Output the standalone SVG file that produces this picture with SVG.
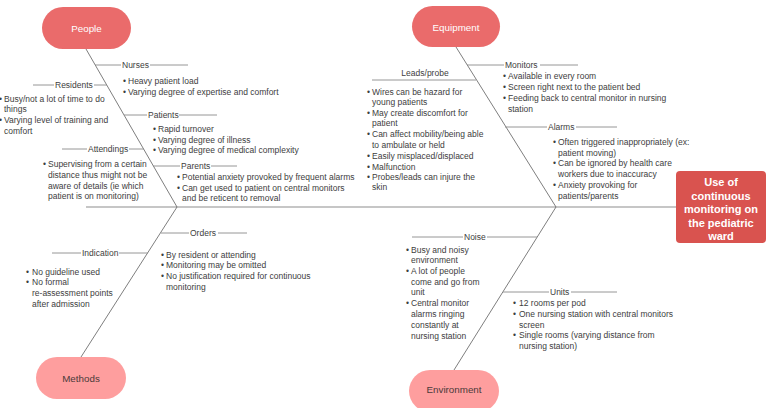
<svg xmlns="http://www.w3.org/2000/svg" width="768" height="408" viewBox="0 0 768 408">
<style>
.bg{fill:#ffffff}
.bone{stroke:#6f6f6f;stroke-width:0.9;fill:none}
.spine{stroke:#b3b3b3;stroke-width:1.6;fill:none}
.br{stroke:#8a8a8a;stroke-width:0.9;fill:none}
.t{font-family:"Liberation Sans",Arial,sans-serif;font-size:8.5px;fill:#3d3d3d}
.pillA{fill:#ea6b6b}
.pillB{fill:#fe9e9e}
.pt{font-family:"Liberation Sans",Arial,sans-serif;font-size:9.8px;text-anchor:middle}
.pw{fill:#ffffff}
.pd{fill:#4a3a3a}
.eff{fill:#d9534f}
.et{font-family:"Liberation Sans",Arial,sans-serif;font-size:11px;font-weight:bold;fill:#ffffff;text-anchor:middle}
</style>
<rect class="bg" x="0" y="0" width="768" height="408"/>

<g id="connectors">
  <line class="spine" x1="86" y1="207" x2="676" y2="207"/>
  <line class="bone" x1="86" y1="49" x2="177" y2="207"/>
  <line class="bone" x1="177" y1="207" x2="81" y2="357"/>
  <line class="bone" x1="456" y1="47" x2="556" y2="207"/>
  <line class="bone" x1="556" y1="207" x2="454" y2="370"/>
  <!-- People branches -->
  <line class="br" x1="95" y1="65" x2="121" y2="65"/><line class="br" x1="150" y1="65" x2="188" y2="65"/>
  <line class="br" x1="33" y1="85" x2="54" y2="85"/><line class="br" x1="94" y1="85" x2="107" y2="85"/>
  <line class="br" x1="124" y1="115" x2="147" y2="115"/><line class="br" x1="179" y1="115" x2="217" y2="115"/>
  <line class="br" x1="62" y1="149" x2="87" y2="149"/><line class="br" x1="129" y1="149" x2="144" y2="149"/>
  <line class="br" x1="153" y1="166" x2="180" y2="166"/><line class="br" x1="211" y1="166" x2="237" y2="166"/>
  <!-- Methods branches -->
  <line class="br" x1="161" y1="233" x2="189" y2="233"/><line class="br" x1="218" y1="233" x2="247" y2="233"/>
  <line class="br" x1="52" y1="253" x2="81" y2="253"/><line class="br" x1="119" y1="253" x2="148" y2="253"/>
  <!-- Equipment branches -->
  <line class="br" x1="372" y1="80" x2="476" y2="80"/>
  <line class="br" x1="467" y1="65" x2="504" y2="65"/><line class="br" x1="540" y1="65" x2="578" y2="65"/>
  <line class="br" x1="505" y1="127" x2="547" y2="127"/><line class="br" x1="576" y1="127" x2="617" y2="127"/>
  <!-- Environment branches -->
  <line class="br" x1="412" y1="237" x2="463" y2="237"/><line class="br" x1="487" y1="237" x2="537" y2="237"/>
  <line class="br" x1="503" y1="292" x2="549" y2="292"/><line class="br" x1="571" y1="292" x2="617" y2="292"/>
</g>

<g id="people">
  <rect class="pillA" x="42" y="7" width="89" height="42" rx="21"/>
  <text class="pt pw" x="86.5" y="31.5">People</text>
</g>
<g id="equipment">
  <rect class="pillA" x="412" y="6" width="88" height="41" rx="20.5"/>
  <text class="pt pw" x="456" y="30.5">Equipment</text>
</g>
<g id="methods">
  <rect class="pillB" x="36" y="357" width="90" height="42" rx="21"/>
  <text class="pt pd" x="81" y="381.5">Methods</text>
</g>
<g id="environment">
  <rect class="pillB" x="409" y="370" width="90" height="42" rx="21"/>
  <text class="pt pd" x="454" y="393">Environment</text>
</g>
<g id="effect">
  <rect class="eff" x="676" y="171" width="90" height="72" rx="4"/>
  <text class="et" x="721" y="186">Use of</text>
  <text class="et" x="721" y="200">continuous</text>
  <text class="et" x="721" y="213">monitoring on</text>
  <text class="et" x="721" y="227">the pediatric</text>
  <text class="et" x="721" y="240">ward</text>
</g>

<g id="nurses">
  <text class="t" x="122" y="68">Nurses</text>
  <text class="t" x="123" y="84">•</text><text class="t" x="128" y="84">Heavy patient load</text>
  <text class="t" x="123" y="95">•</text><text class="t" x="128" y="95">Varying degree of expertise and comfort</text>
</g>
<g id="residents">
  <text class="t" x="55" y="88">Residents</text>
  <text class="t" x="-1" y="102">•</text><text class="t" x="4" y="102">Busy/not a lot of time to do</text>
  <text class="t" x="4" y="112">things</text>
  <text class="t" x="-1" y="123">•</text><text class="t" x="4" y="123">Varying level of training and</text>
  <text class="t" x="4" y="134">comfort</text>
</g>
<g id="patients">
  <text class="t" x="148" y="118">Patients</text>
  <text class="t" x="153" y="132">•</text><text class="t" x="158" y="132">Rapid turnover</text>
  <text class="t" x="153" y="143">•</text><text class="t" x="158" y="143">Varying degree of illness</text>
  <text class="t" x="153" y="153">•</text><text class="t" x="158" y="153">Varying degree of medical complexity</text>
</g>
<g id="attendings">
  <text class="t" x="88" y="152">Attendings</text>
  <text class="t" x="43" y="167">•</text><text class="t" x="48" y="167">Supervising from a certain</text>
  <text class="t" x="48" y="178">distance thus might not be</text>
  <text class="t" x="48" y="189">aware of details (ie which</text>
  <text class="t" x="48" y="199">patient is on monitoring)</text>
</g>
<g id="parents">
  <text class="t" x="181" y="169">Parents</text>
  <text class="t" x="177" y="180">•</text><text class="t" x="182" y="180">Potential anxiety provoked by frequent alarms</text>
  <text class="t" x="177" y="191">•</text><text class="t" x="182" y="191">Can get used to patient on central monitors</text>
  <text class="t" x="182" y="201">and be reticent to removal</text>
</g>
<g id="orders">
  <text class="t" x="190" y="236">Orders</text>
  <text class="t" x="161" y="258">•</text><text class="t" x="166" y="258">By resident or attending</text>
  <text class="t" x="161" y="268">•</text><text class="t" x="166" y="268">Monitoring may be omitted</text>
  <text class="t" x="161" y="279">•</text><text class="t" x="166" y="279">No justification required for continuous</text>
  <text class="t" x="166" y="290">monitoring</text>
</g>
<g id="indication">
  <text class="t" x="82" y="256">Indication</text>
  <text class="t" x="26" y="275">•</text><text class="t" x="32" y="275">No guideline used</text>
  <text class="t" x="26" y="285">•</text><text class="t" x="32" y="285">No formal</text>
  <text class="t" x="32" y="296">re-assessment points</text>
  <text class="t" x="32" y="307">after admission</text>
</g>
<g id="leads">
  <text class="t" x="425" y="76" text-anchor="middle">Leads/probe</text>
  <text class="t" x="367" y="95">•</text><text class="t" x="372" y="95">Wires can be hazard for</text>
  <text class="t" x="372" y="105">young patients</text>
  <text class="t" x="367" y="116">•</text><text class="t" x="372" y="116">May create discomfort for</text>
  <text class="t" x="372" y="126">patient</text>
  <text class="t" x="367" y="137">•</text><text class="t" x="372" y="137">Can affect mobility/being able</text>
  <text class="t" x="372" y="148">to ambulate or held</text>
  <text class="t" x="367" y="159">•</text><text class="t" x="372" y="159">Easily misplaced/displaced</text>
  <text class="t" x="367" y="170">•</text><text class="t" x="372" y="170">Malfunction</text>
  <text class="t" x="367" y="180">•</text><text class="t" x="372" y="180">Probes/leads can injure the</text>
  <text class="t" x="372" y="190">skin</text>
</g>
<g id="monitors">
  <text class="t" x="505" y="68">Monitors</text>
  <text class="t" x="503" y="79">•</text><text class="t" x="508" y="79">Available in every room</text>
  <text class="t" x="503" y="90">•</text><text class="t" x="508" y="90">Screen right next to the patient bed</text>
  <text class="t" x="503" y="101">•</text><text class="t" x="508" y="101">Feeding back to central monitor in nursing</text>
  <text class="t" x="508" y="112">station</text>
</g>
<g id="alarms">
  <text class="t" x="548" y="130">Alarms</text>
  <text class="t" x="553" y="145">•</text><text class="t" x="558" y="145">Often triggered inappropriately (ex:</text>
  <text class="t" x="558" y="156">patient moving)</text>
  <text class="t" x="553" y="166">•</text><text class="t" x="558" y="166">Can be ignored by health care</text>
  <text class="t" x="558" y="177">workers due to inaccuracy</text>
  <text class="t" x="553" y="188">•</text><text class="t" x="558" y="188">Anxiety provoking for</text>
  <text class="t" x="558" y="199">patients/parents</text>
</g>
<g id="noise">
  <text class="t" x="464" y="240">Noise</text>
  <text class="t" x="406" y="253">•</text><text class="t" x="411" y="253">Busy and noisy</text>
  <text class="t" x="411" y="263">environment</text>
  <text class="t" x="406" y="274">•</text><text class="t" x="411" y="274">A lot of people</text>
  <text class="t" x="411" y="285">come and go from</text>
  <text class="t" x="411" y="295">unit</text>
  <text class="t" x="406" y="306">•</text><text class="t" x="411" y="306">Central monitor</text>
  <text class="t" x="411" y="317">alarms ringing</text>
  <text class="t" x="411" y="328">constantly at</text>
  <text class="t" x="411" y="339">nursing station</text>
</g>
<g id="units">
  <text class="t" x="550" y="295">Units</text>
  <text class="t" x="513" y="306">•</text><text class="t" x="519" y="306">12 rooms per pod</text>
  <text class="t" x="513" y="317">•</text><text class="t" x="519" y="317">One nursing station with central monitors</text>
  <text class="t" x="519" y="328">screen</text>
  <text class="t" x="513" y="338">•</text><text class="t" x="519" y="338">Single rooms (varying distance from</text>
  <text class="t" x="519" y="349">nursing station)</text>
</g>
</svg>
